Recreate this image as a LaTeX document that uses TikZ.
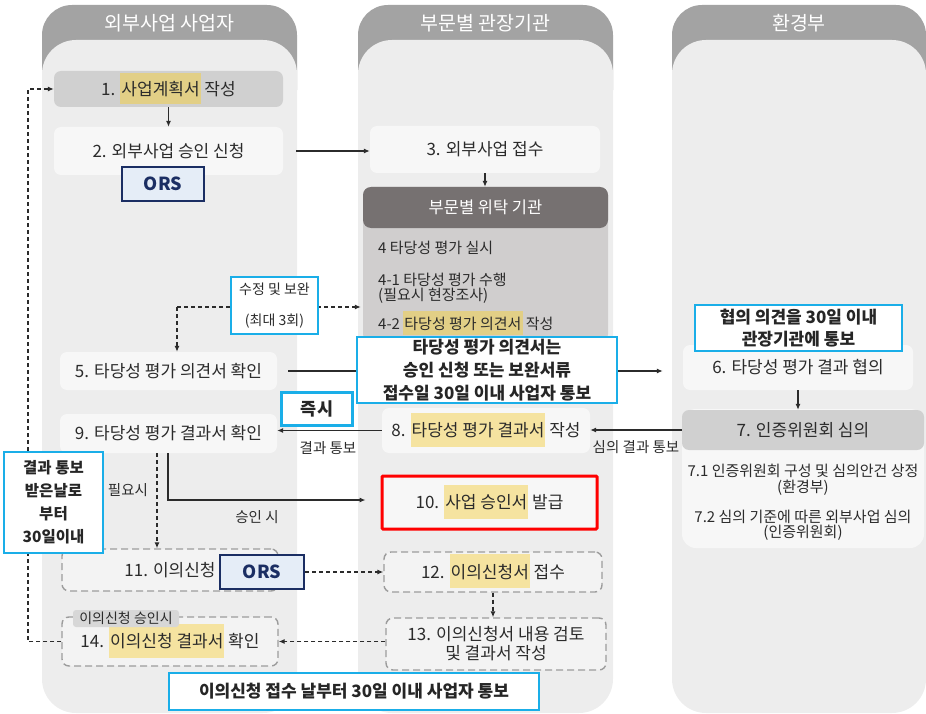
\documentclass[tikz,border=0pt]{standalone}
\usepackage{fontspec}
\setmainfont{Noto Sans CJK KR}
\usetikzlibrary{arrows.meta}

\definecolor{colhead}{HTML}{A3A3A3}
\definecolor{colbody}{HTML}{EDEDED}
\definecolor{boxgray}{HTML}{D0D0D0}
\definecolor{boxlight}{HTML}{F7F7F7}
\definecolor{boxdash}{HTML}{F3F3F3}
\definecolor{wthead}{HTML}{767171}
\definecolor{wtbody}{HTML}{D0CECE}
\definecolor{hlyel}{HTML}{F5E3A0}
\definecolor{hlgold}{HTML}{E2CF86}
\definecolor{noteline}{HTML}{1AAEE8}
\definecolor{orsline}{HTML}{1B2E63}
\definecolor{orsfill}{HTML}{E5EDF7}
\definecolor{txt}{HTML}{2B2B2B}
\definecolor{dashgray}{HTML}{9C9C9C}

\newcommand{\hlt}[1]{\smash{\setlength{\fboxsep}{0pt}\colorbox{hlyel}{\rule[-10pt]{0pt}{34pt}\hspace{1pt}#1\hspace{1pt}}}}
\newcommand{\hltg}[3]{\smash{\setlength{\fboxsep}{0pt}\colorbox{hlgold}{\rule[-#1]{0pt}{#2}\hspace{1pt}#3\hspace{1pt}}}}

\tikzset{
  colhdr/.style={text=white, font=\fontsize{19.5}{22}\selectfont},
  steplight/.style={fill=boxlight, rounded corners=7pt, inner sep=0pt, text=txt,
    font=\fontsize{17}{19}\selectfont, align=center},
  stepgray/.style={steplight, fill=boxgray},
  stepdash/.style={steplight, fill=boxdash, draw=dashgray, line width=1.4pt,
    dash pattern=on 7pt off 4pt},
  notebox/.style={draw=noteline, line width=2.5pt, fill=white, inner sep=0pt,
    align=center, text=black!85, font=\bfseries\fontsize{17}{23}\selectfont},
  orsbox/.style={draw=orsline, line width=2pt, fill=orsfill, text=orsline, inner sep=0pt,
    font=\bfseries\fontsize{18}{20}\selectfont},
  subtxt/.style={text=txt, font=\fontsize{15}{15.5}\selectfont, inner sep=0pt},
  lbl/.style={text=txt, font=\fontsize{14.5}{15}\selectfont, inner sep=0pt},
  tagbox/.style={fill=boxgray!85, rounded corners=3pt, inner sep=0pt, text=txt,
    font=\fontsize{14}{14}\selectfont, minimum width=106, minimum height=17},
  arr/.style={-{Latex[length=6pt,width=5pt]}, line width=1.1pt, draw=txt},
  darr/.style={arr, dash pattern=on 4pt off 3pt},
}

\begin{document}
\begin{tikzpicture}[x=1pt,y=-1pt]
\useasboundingbox (0,0) rectangle (926,714);

% columns
\foreach \xa/\xb/\lbl [count=\i] in {42/297/외부사업 사업자,358/613/부문별 관장기관,672/926/환경부} {
  \fill[colhead, rounded corners=30pt] (\xa,5) rectangle (\xb,120);
  \fill[colbody, rounded corners=34pt] (\xa,40) rectangle (\xb,713);
  \node[colhdr] (h\i) at ({(\xa+\xb)/2},23) {\lbl};
}

% applicant
\node[stepgray, minimum width=229, minimum height=36] (s1) at (168.5,89) {1. \hltg{9pt}{31pt}{사업계획서} 작성};
\node[steplight, minimum width=229, minimum height=48] (s2) at (168.5,151) {2. 외부사업 승인 신청};
\node[orsbox, minimum width=82, minimum height=34] (ors1) at (163,184) {ORS};
\node[steplight, minimum width=217, minimum height=38] (s5) at (168.5,371) {5. 타당성 평가 의견서 확인};
\node[steplight, minimum width=217, minimum height=39] (s9) at (168.5,433.5) {9. 타당성 평가 결과서 확인};
\node[stepdash, minimum width=216, minimum height=42] (s11) at (170,570) {11. 이의신청};
\node[orsbox, minimum width=84, minimum height=34] (ors2) at (262,572) {ORS};
\node[stepdash, minimum width=216, minimum height=49] (s14) at (170,641.5) {14. \hlt{이의신청 결과서} 확인};
\node[tagbox] (tg) at (126,618.5) {이의신청 승인시};

% sector agency
\node[steplight, minimum width=230, minimum height=47] (s3) at (485,149.5) {3. 외부사업 접수};
\node[fill=wtbody, rounded corners=8pt, minimum width=245, minimum height=155, inner sep=0pt] (wtb) at (485.5,264.5) {};
\node[fill=wthead, rounded corners=8pt, minimum width=245, minimum height=41, inner sep=0pt,
  text=white, font=\fontsize{16.5}{19}\selectfont] (wt) at (485.5,207.5) {부문별 위탁 기관};
\node[subtxt, anchor=west] (t4) at (378,248) {4 타당성 평가 실시};
\node[subtxt, anchor=west, align=left] (t41) at (378,288.5) {4-1 타당성 평가 수행\\(필요시 현장조사)};
\node[subtxt, anchor=west] (t42) at (378,324) {4-2 \hltg{5pt}{24pt}{타당성 평가 의견서} 작성};
\node[steplight, minimum width=208, minimum height=45] (s8) at (486,430.5) {8. \hlt{타당성 평가 결과서} 작성};
\node[steplight, draw=red, line width=3pt, rounded corners=1pt, minimum width=215, minimum height=53] (s10) at (489.5,502.5) {10. \hlt{사업 승인서} 발급};
\node[stepdash, minimum width=218, minimum height=40] (s12) at (493,572) {12. \hlt{이의신청서} 접수};
\node[stepdash, minimum width=220, minimum height=52] (s13) at (496,644) {13. 이의신청서 내용 검토\\및 결과서 작성};

% ministry
\node[steplight, minimum width=230, minimum height=45] (s6) at (798,367.5) {6. 타당성 평가 결과 협의};
\node[fill=boxlight, rounded corners=14pt, minimum width=242, minimum height=139, inner sep=0pt] (s7b) at (803,478.5) {};
\node[stepgray, minimum width=242, minimum height=40] (s7) at (803,430) {7. 인증위원회 심의};
\node[subtxt, align=center] (t71) at (803,480) {7.1 인증위원회 구성 및 심의안건 상정\\(환경부)};
\node[subtxt, align=center] (t72) at (803,525.5) {7.2 심의 기준에 따른 외부사업 심의\\(인증위원회)};

% connectors
\coordinate (c5) at (177,307);
\coordinate (c9) at (168,500);
\coordinate (x157) at (157,0);
\coordinate (lb) at (28,641.5);
\coordinate (lt) at (28,89);
\draw[arr] (s1) -- (s2);
\draw[arr, shorten <=13pt] (s2.east) -- (s2.east -| s3.west);
\draw[arr] (s3.south) -- (s3.south |- wt.north);
\draw[darr] (c5) -- ([xshift=-2pt]wtb.west |- c5);
\draw[darr] (c5) -- (c5 |- s5.north);
\draw[arr, shorten <=11pt, shorten >=20pt] (s5.east) -- (s5.east -| s6.west);
\draw[arr] (s6.south) -- (s6.south |- s7.north);
\draw[arr] (s7.west) -- (s7.west -| s8.east);
\draw[arr] (s8.west) -- (s8.west -| s9.east);
\draw[darr] (s9.south -| x157) -- (s11.north -| x157);
\draw[arr, shorten >=15pt] (s9.south -| c9) -- (c9) -- (s10.west |- c9);
\draw[darr] (ors2.east) -- (ors2.east -| s12.west);
\draw[darr] (s12.south) -- (s12.south |- s13.north);
\draw[darr] (s13.west |- s14) -- (s14.east);
\draw[darr] (s14.west) -- (lb) -- (lt) -- (s1.west);

\node[lbl] (l1) at (636,447) {심의 결과 통보};
\node[lbl] (l2) at (328,448) {결과 통보};
\node[lbl] (l3) at (128,490) {필요시};
\node[lbl] (l4) at (257,517) {승인 시};

% notes
\node[notebox, minimum width=87, minimum height=57, font=\fontsize{14}{31}\selectfont, text=txt] (n0) at (274.5,305.5) {수정 및 보완\\(최대 3회)};
\node[notebox, minimum width=260, minimum height=66] (n1) at (487,370) {타당성 평가 의견서는\\승인 신청 또는 보완서류\\접수일 30일 이내 사업자 통보};
\node[notebox, minimum width=207, minimum height=46, font=\bfseries\fontsize{17}{22}\selectfont] (n2) at (798.5,328) {협의 의견을 30일 이내\\관장기관에 통보};
\node[notebox, minimum width=71, minimum height=33, font=\bfseries\fontsize{17.5}{20}\selectfont] (n3) at (317,409) {즉시};
\node[notebox, minimum width=99, minimum height=101, font=\bfseries\fontsize{15.5}{23}\selectfont] (n4) at (53.5,502.5) {결과 통보\\받은날로\\부터\\30일이내};
\node[notebox, minimum width=370, minimum height=37] (n5) at (354,691.5) {이의신청 접수 날부터 30일 이내 사업자 통보};
\end{tikzpicture}
\end{document}
